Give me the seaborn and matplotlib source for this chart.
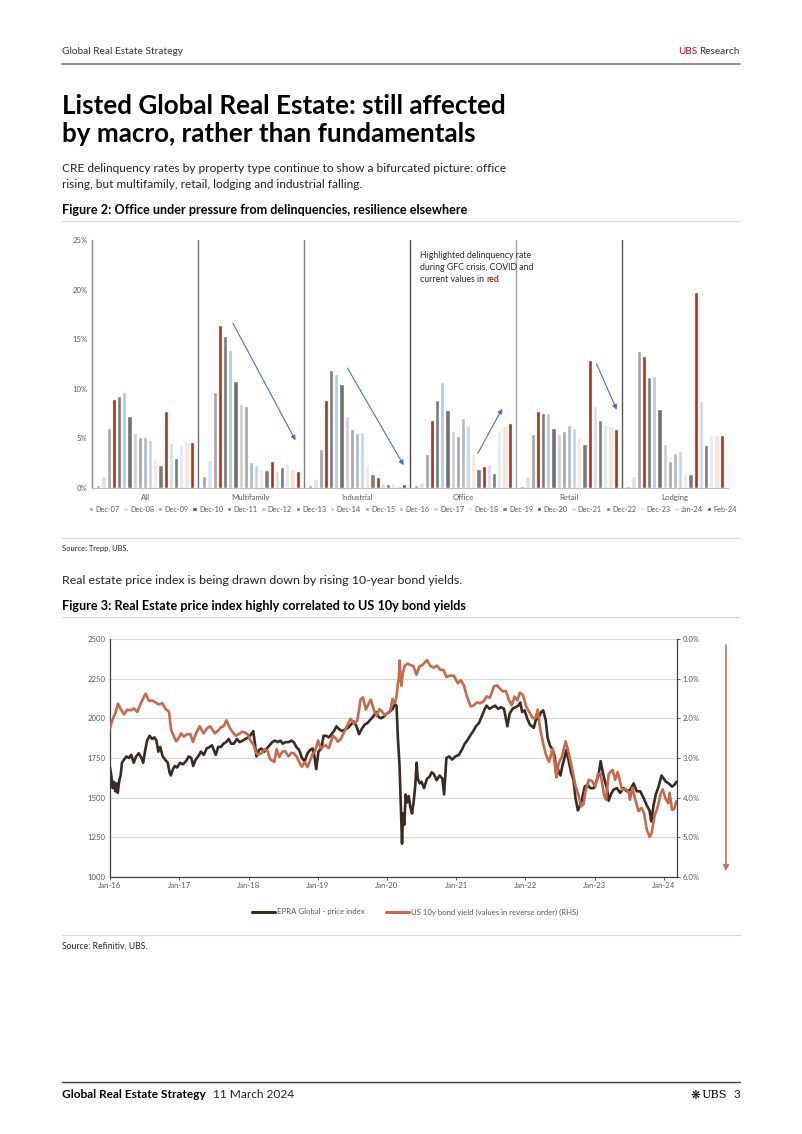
import numpy as np
import pandas as pd
import matplotlib
matplotlib.use("Agg")
import matplotlib.pyplot as plt
import matplotlib.dates as mdates
from matplotlib.lines import Line2D
import seaborn as sns

# ---------------- data: Figure 2 (delinquency rates, %) ----------------
categories = ["All", "Multifamily", "Industrial", "Office", "Retail", "Lodging"]
periods = ["Dec-07", "Dec-08", "Dec-09", "Dec-10", "Dec-11", "Dec-12", "Dec-13",
           "Dec-14", "Dec-15", "Dec-16", "Dec-17", "Dec-18", "Dec-19", "Dec-20",
           "Dec-21", "Dec-22", "Dec-23", "Jan-24", "Feb-24"]
rate_all = [0.3, 1.18, 6.0, 9.0, 9.25, 9.65, 7.3, 5.5, 5.15, 5.15, 4.8, 3.0, 2.3, 7.75, 4.55, 3.0, 4.4, 4.6, 4.65]
rate_multifamily = [1.18, 2.8, 9.68, 16.4, 15.35, 13.9, 10.75, 8.5, 8.25, 2.65, 2.35, 1.9, 1.78, 2.7, 1.68, 2.12, 2.52, 1.88, 1.75]
rate_industrial = [0.3, 0.9, 3.97, 8.85, 11.87, 11.47, 10.52, 7.3, 5.9, 5.58, 5.6, 2.4, 1.4, 1.1, 0.47, 0.4, 0.47, 0.34, 0.4]
rate_office = [0.27, 0.57, 3.4, 6.9, 8.85, 10.65, 7.83, 5.75, 5.2, 7.1, 6.35, 3.4, 1.95, 2.18, 2.45, 1.55, 5.75, 6.22, 6.6]
rate_retail = [0.25, 1.18, 5.4, 7.73, 7.53, 7.6, 6.08, 5.4, 5.7, 6.32, 6.08, 5.14, 4.4, 12.87, 8.23, 6.9, 6.42, 6.22, 5.98]
rate_lodging = [0.25, 1.24, 13.85, 13.3, 11.16, 11.26, 7.96, 4.4, 2.76, 3.5, 3.76, 1.44, 1.44, 19.72, 8.74, 4.33, 5.3, 5.38, 5.38]
period_colors = ["#a5a5a5", "#dae3f3", "#a5a5a5", "#a8321e", "#7b7b7b", "#b4c7e7", "#707070",
                 "#d0cece", "#a6a6a6", "#adb9ca", "#bdd7ee", "#fbe5d6", "#7b7b7b", "#a8321e",
                 "#d6dce5", "#7b7b7b", "#deebf7", "#fbe2d2", "#a8321e"]
rate_ticks = [0, 5, 10, 15, 20, 25]
# trend arrows (category units, %): (x_from, y_from, x_to, y_to)
trend_arrows = [(0.83, 16.6, 1.42, 4.8), (1.91, 12.1, 2.44, 2.3),
                (3.14, 3.5, 3.37, 8.0), (4.26, 12.5, 4.45, 7.9)]

# ---------------- data: Figure 3 ----------------
epra_dates = [
    "2016-01-01", "2016-01-08", "2016-01-15", "2016-01-22", "2016-01-29", "2016-02-05", "2016-02-11",
    "2016-02-19", "2016-02-26", "2016-03-04", "2016-03-15", "2016-03-28", "2016-04-10", "2016-04-22",
    "2016-05-05", "2016-05-18", "2016-06-01", "2016-06-15", "2016-06-24", "2016-07-05", "2016-07-15",
    "2016-07-28", "2016-08-10", "2016-08-22", "2016-09-02", "2016-09-12", "2016-09-22", "2016-10-05",
    "2016-10-18", "2016-11-01", "2016-11-10", "2016-11-17", "2016-11-28", "2016-12-08", "2016-12-20",
    "2017-01-05", "2017-01-20", "2017-02-05", "2017-02-20", "2017-03-05", "2017-03-15", "2017-03-28",
    "2017-04-10", "2017-04-25", "2017-05-10", "2017-05-25", "2017-06-10", "2017-06-22", "2017-07-05",
    "2017-07-12", "2017-07-25", "2017-08-08", "2017-08-22", "2017-09-05", "2017-09-18", "2017-10-01",
    "2017-10-15", "2017-11-01", "2017-11-15", "2017-12-01", "2017-12-15", "2018-01-01", "2018-01-15",
    "2018-01-26", "2018-02-05", "2018-02-12", "2018-02-25", "2018-03-10", "2018-03-25", "2018-04-08",
    "2018-04-22", "2018-05-06", "2018-05-20", "2018-06-05", "2018-06-18", "2018-07-01", "2018-07-15",
    "2018-08-01", "2018-08-15", "2018-08-28", "2018-09-10", "2018-09-25", "2018-10-10", "2018-10-25",
    "2018-11-08", "2018-11-22", "2018-12-05", "2018-12-15", "2018-12-24", "2019-01-05", "2019-01-20",
    "2019-02-01", "2019-02-15", "2019-03-01", "2019-03-15", "2019-03-28", "2019-04-10", "2019-04-25",
    "2019-05-10", "2019-05-25", "2019-06-10", "2019-06-25", "2019-07-10", "2019-07-25", "2019-08-07",
    "2019-08-20", "2019-09-05", "2019-09-20", "2019-10-05", "2019-10-20", "2019-11-05", "2019-11-18",
    "2019-12-01", "2019-12-15", "2020-01-01", "2020-01-15", "2020-02-01", "2020-02-12", "2020-02-21",
    "2020-02-28", "2020-03-08", "2020-03-12", "2020-03-17", "2020-03-21", "2020-03-26", "2020-04-02",
    "2020-04-09", "2020-04-16", "2020-04-25", "2020-05-04", "2020-05-13", "2020-05-22", "2020-05-30",
    "2020-06-06", "2020-06-12", "2020-06-22", "2020-07-02", "2020-07-15", "2020-07-31", "2020-08-12",
    "2020-08-25", "2020-09-04", "2020-09-20", "2020-10-05", "2020-10-20", "2020-10-29", "2020-11-10",
    "2020-11-25", "2020-12-10", "2020-12-28", "2021-01-15", "2021-01-30", "2021-02-15", "2021-02-28",
    "2021-03-15", "2021-04-01", "2021-04-15", "2021-05-01", "2021-05-15", "2021-06-01", "2021-06-10",
    "2021-06-25", "2021-07-10", "2021-07-25", "2021-08-10", "2021-08-25", "2021-09-10", "2021-09-28",
    "2021-10-10", "2021-10-25", "2021-11-10", "2021-11-25", "2021-12-05", "2021-12-15", "2021-12-28",
    "2022-01-10", "2022-01-25", "2022-02-14", "2022-02-25", "2022-03-10", "2022-03-25", "2022-04-05",
    "2022-04-18", "2022-04-28", "2022-05-10", "2022-05-25", "2022-06-05", "2022-06-14", "2022-06-22",
    "2022-07-05", "2022-07-15", "2022-07-28", "2022-08-05", "2022-08-18", "2022-08-30", "2022-09-12",
    "2022-09-22", "2022-10-05", "2022-10-12", "2022-10-25", "2022-11-10", "2022-11-25", "2022-12-10",
    "2022-12-28", "2023-01-10", "2023-01-22", "2023-02-02", "2023-02-10", "2023-02-21", "2023-03-07",
    "2023-03-16", "2023-03-28", "2023-04-11", "2023-04-29", "2023-05-16", "2023-06-03", "2023-06-21",
    "2023-07-08", "2023-07-26", "2023-08-12", "2023-08-30", "2023-09-16", "2023-10-04", "2023-10-18",
    "2023-10-27", "2023-11-08", "2023-11-20", "2023-12-05", "2023-12-20", "2024-01-01", "2024-01-12",
    "2024-01-27", "2024-02-14", "2024-02-26", "2024-03-08"]
epra_values = [
    1690, 1640, 1560, 1600, 1540, 1590, 1530,
    1610, 1640, 1720, 1740, 1760, 1750, 1770,
    1720, 1760, 1780, 1750, 1720, 1800, 1860,
    1890, 1870, 1880, 1860, 1790, 1820, 1760,
    1740, 1720, 1660, 1640, 1680, 1700, 1690,
    1720, 1710, 1730, 1760, 1750, 1700, 1740,
    1760, 1790, 1770, 1810, 1820, 1830, 1790,
    1770, 1820, 1820, 1840, 1850, 1870, 1840,
    1840, 1870, 1850, 1860, 1870, 1880, 1900,
    1920, 1830, 1760, 1800, 1810, 1790, 1810,
    1830, 1850, 1860, 1850, 1860, 1840, 1850,
    1850, 1860, 1850, 1820, 1800, 1750, 1730,
    1780, 1800, 1810, 1760, 1680, 1790, 1810,
    1890, 1890, 1880, 1900, 1920, 1950, 1930,
    1920, 1930, 1940, 1960, 1980, 1950, 1900,
    1930, 1960, 1970, 1990, 2010, 2040, 2010,
    2000, 2010, 2030, 2040, 2060, 2090, 2080,
    1880, 1700, 1550, 1350, 1210, 1400, 1330,
    1520, 1470, 1510, 1440, 1400, 1480, 1580,
    1720, 1620, 1590, 1600, 1560, 1620, 1630,
    1660, 1650, 1610, 1640, 1620, 1520, 1750,
    1760, 1740, 1760, 1770, 1800, 1840, 1860,
    1890, 1920, 1950, 1970, 2010, 2060, 2080,
    2060, 2070, 2080, 2060, 2070, 2060, 1950,
    2030, 2060, 2070, 2080, 2100, 2040, 2050,
    2000, 1960, 1940, 1990, 2000, 2040, 2050,
    1990, 1880, 1830, 1800, 1760, 1630, 1680,
    1640, 1700, 1760, 1800, 1730, 1660, 1610,
    1500, 1420, 1440, 1480, 1570, 1580, 1560,
    1560, 1600, 1640, 1730, 1680, 1620, 1560,
    1480, 1520, 1550, 1560, 1530, 1560, 1540,
    1550, 1590, 1540, 1540, 1500, 1450, 1420,
    1350, 1450, 1520, 1570, 1640, 1620, 1600,
    1590, 1570, 1580, 1600]

yield_dates = [
    "2016-01-01", "2016-01-13", "2016-01-31", "2016-02-12", "2016-02-26", "2016-03-15", "2016-04-01",
    "2016-04-19", "2016-05-06", "2016-05-24", "2016-06-10", "2016-06-28", "2016-07-08", "2016-07-24",
    "2016-08-11", "2016-08-28", "2016-09-15", "2016-10-03", "2016-10-20", "2016-11-07", "2016-11-19",
    "2016-12-03", "2016-12-15", "2016-12-28", "2017-01-10", "2017-01-24", "2017-02-10", "2017-02-28",
    "2017-03-14", "2017-03-28", "2017-04-18", "2017-05-09", "2017-05-27", "2017-06-13", "2017-07-07",
    "2017-07-26", "2017-08-10", "2017-08-22", "2017-09-07", "2017-09-25", "2017-10-10", "2017-10-25",
    "2017-11-10", "2017-11-28", "2017-12-14", "2017-12-28", "2018-01-10", "2018-01-26", "2018-02-09",
    "2018-02-21", "2018-03-10", "2018-03-28", "2018-04-12", "2018-04-25", "2018-05-17", "2018-05-29",
    "2018-06-13", "2018-06-28", "2018-07-13", "2018-07-31", "2018-08-15", "2018-08-28", "2018-09-12",
    "2018-09-25", "2018-10-09", "2018-10-25", "2018-11-08", "2018-11-23", "2018-12-05", "2018-12-18",
    "2019-01-03", "2019-01-17", "2019-02-12", "2019-03-01", "2019-03-22", "2019-04-06", "2019-04-17",
    "2019-05-02", "2019-05-28", "2019-06-10", "2019-06-24", "2019-07-11", "2019-07-29", "2019-08-15",
    "2019-08-28", "2019-09-12", "2019-09-25", "2019-10-08", "2019-10-25", "2019-11-08", "2019-11-22",
    "2019-12-05", "2019-12-20", "2020-01-08", "2020-01-19", "2020-01-31", "2020-02-12", "2020-02-21",
    "2020-02-28", "2020-03-04", "2020-03-09", "2020-03-13", "2020-03-18", "2020-03-25", "2020-04-05",
    "2020-04-20", "2020-05-05", "2020-05-20", "2020-06-05", "2020-06-20", "2020-07-10", "2020-07-31",
    "2020-08-17", "2020-09-05", "2020-09-21", "2020-10-10", "2020-10-27", "2020-11-10", "2020-12-01",
    "2020-12-20", "2021-01-10", "2021-01-25", "2021-02-10", "2021-02-26", "2021-03-18", "2021-04-01",
    "2021-04-20", "2021-05-08", "2021-05-25", "2021-06-10", "2021-06-28", "2021-07-19", "2021-08-04",
    "2021-08-21", "2021-09-03", "2021-09-20", "2021-10-05", "2021-10-21", "2021-11-05", "2021-11-20",
    "2021-12-03", "2021-12-20", "2022-01-05", "2022-01-20", "2022-02-10", "2022-02-25", "2022-03-07",
    "2022-03-21", "2022-04-08", "2022-04-20", "2022-05-06", "2022-05-25", "2022-06-14", "2022-06-26",
    "2022-07-13", "2022-08-01", "2022-08-18", "2022-09-04", "2022-09-22", "2022-10-09", "2022-10-21",
    "2022-11-04", "2022-11-14", "2022-12-01", "2022-12-19", "2023-01-05", "2023-01-19", "2023-02-02",
    "2023-02-21", "2023-03-02", "2023-03-17", "2023-04-06", "2023-04-20", "2023-05-03", "2023-05-26",
    "2023-06-13", "2023-06-29", "2023-07-07", "2023-07-20", "2023-08-04", "2023-08-21", "2023-09-05",
    "2023-09-20", "2023-10-03", "2023-10-19", "2023-10-30", "2023-11-14", "2023-12-01", "2023-12-15",
    "2023-12-27", "2024-01-10", "2024-01-25", "2024-02-01", "2024-02-14", "2024-02-26", "2024-03-08"]
yield_values = [
    2.26, 2.05, 1.85, 1.63, 1.76, 1.90, 1.78,
    1.80, 1.75, 1.84, 1.64, 1.46, 1.38, 1.56,
    1.55, 1.60, 1.65, 1.62, 1.76, 1.83, 2.30,
    2.45, 2.58, 2.50, 2.38, 2.46, 2.40, 2.40,
    2.60, 2.40, 2.20, 2.38, 2.25, 2.20, 2.38,
    2.30, 2.22, 2.20, 2.05, 2.25, 2.35, 2.44,
    2.40, 2.34, 2.36, 2.41, 2.55, 2.66, 2.85,
    2.92, 2.88, 2.78, 2.83, 3.03, 3.10, 2.78,
    2.97, 2.84, 2.83, 2.96, 2.87, 2.88, 2.97,
    3.10, 3.22, 3.10, 3.23, 3.05, 2.90, 2.83,
    2.56, 2.75, 2.68, 2.75, 2.44, 2.50, 2.59,
    2.53, 2.27, 2.14, 2.01, 2.13, 2.06, 1.53,
    1.47, 1.78, 1.65, 1.53, 1.80, 1.94, 1.77,
    1.82, 1.92, 1.87, 1.80, 1.51, 1.62, 1.46,
    1.13, 1.00, 0.54, 0.98, 1.18, 0.86, 0.67,
    0.62, 0.66, 0.68, 0.90, 0.70, 0.64, 0.53,
    0.68, 0.72, 0.67, 0.78, 0.78, 0.96, 0.92,
    0.93, 1.12, 1.04, 1.16, 1.44, 1.70, 1.68,
    1.60, 1.62, 1.57, 1.45, 1.48, 1.19, 1.17,
    1.26, 1.32, 1.31, 1.52, 1.67, 1.45, 1.55,
    1.35, 1.42, 1.70, 1.83, 2.00, 1.98, 1.78,
    2.30, 2.70, 2.92, 3.10, 2.75, 3.48, 3.13,
    2.96, 2.58, 2.88, 3.26, 3.70, 3.95, 4.22,
    4.16, 3.85, 3.55, 3.58, 3.72, 3.40, 3.40,
    3.95, 4.05, 3.40, 3.30, 3.55, 3.35, 3.80,
    3.78, 3.85, 4.05, 3.75, 4.05, 4.34, 4.26,
    4.40, 4.80, 4.99, 4.88, 4.45, 4.22, 3.91,
    3.79, 4.02, 4.14, 3.88, 4.31, 4.28, 4.09]
index_ticks = [1000, 1250, 1500, 1750, 2000, 2250, 2500]
yield_ticks = [0, 1, 2, 3, 4, 5, 6]
year_ticks = ["2016-01-01", "2017-01-01", "2018-01-01", "2019-01-01", "2020-01-01",
              "2021-01-01", "2022-01-01", "2023-01-01", "2024-01-01"]
x_start, x_end = "2016-01-01", "2024-03-11"

# ---------------- page ----------------
sns.set_theme(style="white")
plt.rcParams["font.family"] = ["Lato", "DejaVu Sans"]

W, H = 802, 1134
fig = plt.figure(figsize=(W / 100, H / 100), dpi=100)
fig.patch.set_facecolor("white")
renderer = fig.canvas.get_renderer()


def fx(x):
    return x / W


def fy(y):
    return 1 - y / H


def ptext(x, y, s, size, width=None, weight="normal", color="#1a1a1a", ha="left", **kw):
    t = fig.text(fx(x), fy(y), s, fontsize=size, fontweight=weight, color=color,
                 ha=ha, va="center", **kw)
    if width is not None:
        w = t.get_window_extent(renderer=renderer).width
        t.set_fontsize(size * width / w)
    return t


def right_of(t, gap_px=0):
    bb = t.get_window_extent(renderer=renderer)
    return bb.x1 + gap_px


def left_of(t, gap_px=0):
    bb = t.get_window_extent(renderer=renderer)
    return bb.x0 - gap_px


def hrule(y, x0=62, x1=740, color="#d9d9d9", lw=0.8):
    fig.add_artist(Line2D([fx(x0), fx(x1)], [fy(y), fy(y)], transform=fig.transFigure,
                          color=color, lw=lw))


# header
ptext(62, 51, "Global Real Estate Strategy", 8, width=121, color="#333333")
tr = ptext(740, 51, "Research", 8, width=40, color="#333333", ha="right")
fig.text(left_of(tr, 2) / W, fy(51), "UBS", fontsize=tr.get_fontsize(), color="#e60000",
         ha="right", va="center")
hrule(63.5, color="#8c8c8c", lw=1.4)

# title
t1 = ptext(62, 106, "Listed Global Real Estate: still affected", 20, width=444, weight="bold", color="#000000")
ptext(62, 134, "by macro, rather than fundamentals", t1.get_fontsize(), weight="bold", color="#000000")

b1 = ptext(62, 169, "CRE delinquency rates by property type continue to show a bifurcated picture: office",
           9, width=445, color="#222222")
ptext(62, 184, "rising, but multifamily, retail, lodging and industrial falling.", b1.get_fontsize(), color="#222222")

ptext(62, 210, "Figure 2: Office under pressure from delinquencies, resilience elsewhere", 8.5, width=404,
      weight="bold", color="#000000")
hrule(221)

# ---------------- Figure 2 ----------------
ax1 = fig.add_axes([fx(92), fy(488), (728 - 92) / W, (488 - 240) / H])
rates = [rate_all, rate_multifamily, rate_industrial, rate_office, rate_retail, rate_lodging]
df = pd.DataFrame([(c, p, v) for c, vals in zip(categories, rates) for p, v in zip(periods, vals)],
                  columns=["category", "period", "rate"])
sns.barplot(data=df, x="category", y="rate", hue="period", order=categories, hue_order=periods,
            palette=period_colors, saturation=1, width=0.93, gap=0.2, errorbar=None, ax=ax1)
ax1.set_xlim(-0.5, 5.5)
ax1.set_ylim(0, 25)
ax1.set_yticks(rate_ticks)
ax1.set_yticklabels([f"{v}%" for v in rate_ticks])
ax1.set_xlabel("")
ax1.set_ylabel("")
ax1.tick_params(axis="both", which="major", labelsize=5.6, labelcolor="#595959", length=0, pad=3)
ax1.tick_params(axis="x", which="major", pad=4)
ax1.set_xticks([i - 0.5 for i in range(7)], minor=True)
ax1.tick_params(axis="x", which="minor", length=2, color="#8c8c8c", width=0.6)
for s in ["top", "right"]:
    ax1.spines[s].set_visible(False)
ax1.spines["left"].set_color("#8c8c8c")
ax1.spines["left"].set_linewidth(1.0)
ax1.spines["bottom"].set_color("#bfbfbf")
ax1.spines["bottom"].set_linewidth(0.8)
sep_colors = ["#6f6f6f", "#7f7f7f", "#4d4d4d", "#a6a6a6", "#595959"]
for i, c in enumerate(sep_colors):
    ax1.axvline(i + 0.5, color=c, lw=1.0, zorder=0.5)
for (xa, ya, xb, yb) in trend_arrows:
    ax1.annotate("", xy=(xb, yb), xytext=(xa, ya),
                 arrowprops=dict(arrowstyle="-|>", color="#4472c4", lw=0.8, mutation_scale=7,
                                 shrinkA=0, shrinkB=0))
sns.move_legend(ax1, "center", bbox_to_anchor=((413 - 92) / 636, -(509 - 488) / 248), ncol=19,
                frameon=False, title=None, fontsize=5.3, handlelength=0.6, handleheight=0.6,
                handletextpad=0.3, columnspacing=0.5)
for txt in ax1.get_legend().get_texts():
    txt.set_color("#595959")

# annotation
a1 = ptext(420, 256, "Highlighted delinquency rate", 6.5, width=110, color="#262626")
fs = a1.get_fontsize()
ptext(420, 267.5, "during GFC crisis, COVID and", fs, color="#262626")
a3 = ptext(420, 279, "current values in ", fs, color="#262626")
fig.text(right_of(a3) / W, fy(279), "red", fontsize=fs, color="#a8321e", fontweight="bold",
         ha="left", va="center")

hrule(538)
ptext(62, 548, "Source: Trepp, UBS.", 6.5, width=66, color="#222222")

ptext(62, 580, "Real estate price index is being drawn down by rising 10-year bond yields.", 9,
      width=403, color="#222222")
ptext(62, 606, "Figure 3: Real Estate price index highly correlated to US 10y bond yields", 8.5,
      width=402, weight="bold", color="#000000")
hrule(617)

# ---------------- Figure 3 ----------------
ax2 = fig.add_axes([fx(110), fy(877), (677 - 110) / W, (877 - 639) / H])
epra_c, yld_c = "#3b2a22", "#c8694a"
sns.lineplot(x=pd.to_datetime(epra_dates), y=epra_values, ax=ax2, color=epra_c, lw=1.9)
ax3 = ax2.twinx()
sns.lineplot(x=pd.to_datetime(yield_dates), y=yield_values, ax=ax3, color=yld_c, lw=1.9)
ax2.set_xlim(pd.Timestamp(x_start), pd.Timestamp(x_end))
ax2.set_ylim(1000, 2500)
ax3.set_ylim(6, 0)
ax2.set_yticks(index_ticks)
ax3.set_yticks(yield_ticks)
ax3.set_yticklabels([f"{v:.1f}%" for v in yield_ticks])
ax2.set_xticks(pd.to_datetime(year_ticks))
ax2.xaxis.set_major_formatter(mdates.DateFormatter("%b-%y"))
ax2.set_axisbelow(True)
ax2.yaxis.grid(True, color="#d9d9d9", lw=0.8)
ax2.xaxis.grid(False)
for a in (ax2, ax3):
    a.set_xlabel("")
    a.set_ylabel("")
    a.spines["top"].set_visible(False)
ax2.spines["right"].set_visible(False)
ax3.spines["left"].set_visible(False)
ax3.spines["bottom"].set_visible(False)
for s, a in (("left", ax2), ("bottom", ax2), ("right", ax3)):
    a.spines[s].set_color("#404040")
    a.spines[s].set_linewidth(0.9)
ax2.tick_params(axis="y", labelsize=5.6, labelcolor="#595959", length=0, pad=3)
ax2.tick_params(axis="x", labelsize=5.6, labelcolor="#595959", length=2, width=0.6,
                color="#404040", pad=1.5, bottom=True)
ax3.tick_params(axis="y", labelsize=5.6, labelcolor="#595959", length=2, width=0.6,
                color="#404040", pad=2, right=True)
handles = [Line2D([], [], color=epra_c, lw=2.2), Line2D([], [], color=yld_c, lw=2.2)]
leg2 = ax2.legend(handles, ["EPRA Global - price index", "US 10y bond yield (values in reverse order) (RHS)"],
                  loc="center", bbox_to_anchor=(fx(415), fy(912)), bbox_transform=fig.transFigure,
                  ncol=2, frameon=False, fontsize=5.6, handlelength=3.0, handletextpad=0.15,
                  columnspacing=2.8)
for txt in leg2.get_texts():
    txt.set_color("#595959")

# reverse-order arrow on the right
ax2.annotate("", xy=(fx(726), fy(871)), xytext=(fx(726), fy(645)), xycoords="figure fraction",
             textcoords="figure fraction", annotation_clip=False,
             arrowprops=dict(arrowstyle="-|>", color="#c0735a", lw=1.2, mutation_scale=8,
                             shrinkA=0, shrinkB=0))

hrule(935)
ptext(62, 946, "Source: Refinitiv, UBS.", 6.5, width=85, color="#222222")

# footer
hrule(1082, color="#404040", lw=1.0)
f1 = ptext(62, 1095, "Global Real Estate Strategy", 8.5, width=144, weight="bold", color="#000000")
fig.text((right_of(f1) + 7) / W, fy(1095), "11 March 2024", fontsize=f1.get_fontsize(),
         color="#222222", ha="left", va="center")
p3 = ptext(740, 1095, "3", f1.get_fontsize(), color="#222222", ha="right")
u = fig.text(left_of(p3, 6) / W, fy(1095), "UBS", fontsize=f1.get_fontsize() * 0.95,
             family="DejaVu Serif", color="#000000", ha="right", va="center")
fig.text(left_of(u, 1) / W, fy(1095), "\u274b", fontsize=f1.get_fontsize(),
         family="DejaVu Sans", color="#000000", ha="right", va="center")

fig.savefig("out.png", dpi=100, facecolor="white")
